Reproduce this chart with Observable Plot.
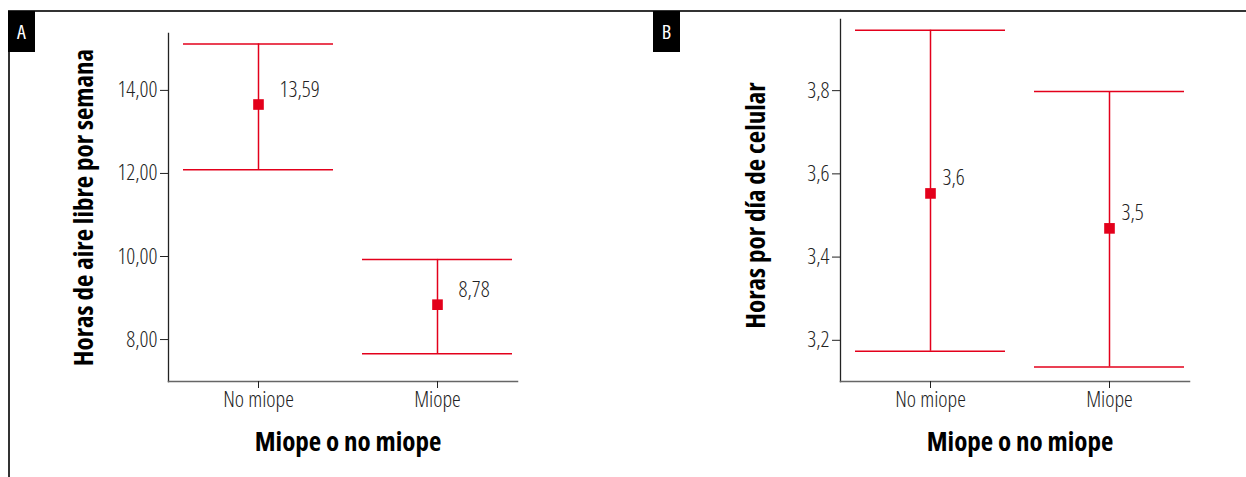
<!DOCTYPE html>
<html>
<head>
<meta charset="utf-8">
<script src="https://cdn.jsdelivr.net/npm/d3@7"></script>
<script src="https://cdn.jsdelivr.net/npm/@observablehq/plot@0.6"></script>
<style>
  html, body { margin: 0; padding: 0; background: #fff; }
  #fig { position: relative; width: 1246px; height: 477px; overflow: hidden;
         font-family: "Open Sans", sans-serif; font-stretch: 75%; }
  .border-top { position: absolute; left: 8px; top: 10px; width: 1238px; height: 1.5px; background: #333; }
  .border-left { position: absolute; left: 8px; top: 10px; width: 1.5px; height: 467px; background: #333; }
  .tag { position: absolute; top: 11px; height: 41px; background: #000; color: #fff; font-size: 20px;
         display: flex; align-items: center; justify-content: center; }
  #plotA { position: absolute; left: 0; top: 0; }
  #plotB { position: absolute; left: 672px; top: 0; }
</style>
</head>
<body>
<div id="fig">
  <div class="border-top"></div>
  <div class="border-left"></div>
  <div id="plotA"></div>
  <div id="plotB"></div>
  <div class="tag" style="left:8px;width:27px;">A</div>
  <div class="tag" style="left:653px;width:27px;">B</div>
</div>
<script>
const groups = ["No miope", "Miope"];
const xTitle = "Miope o no miope";

// Panel A: Horas de aire libre por semana
const titleA = "Horas de aire libre por semana";
const meanA = [13.66, 8.84];
const lowA = [12.09, 7.66];
const highA = [15.12, 9.93];
const labelA = ["13,59", "8,78"];
const ticksA = [8, 10, 12, 14];

// Panel B: Horas por día de celular
const titleB = "Horas por día de celular";
const meanB = [3.553, 3.469];
const lowB = [3.174, 3.136];
const highB = [3.945, 3.798];
const labelB = ["3,6", "3,5"];
const ticksB = [3.2, 3.4, 3.6, 3.8];

const RED = "#e3001b";
const FONT = '"Open Sans", sans-serif';
const comma = (f) => (d) => d3.format(f)(d).replace(".", ",");

function panel({mean, low, high, label, ticks, fmt, yDomain, marginTop, yTitle, titleDy, dx, dy}) {
  const rows = groups.map((g, i) => ({g, mean: mean[i], low: low[i], high: high[i], label: label[i]}));
  return Plot.plot({
    width: 560,
    height: 477,
    marginLeft: 168,
    marginRight: 43,
    marginTop,
    marginBottom: 96,
    style: {fontFamily: FONT, fontStretch: "75%", fontSize: "22px", fontWeight: 300, color: "#222", background: "transparent", overflow: "visible"},
    x: {type: "band", domain: groups, paddingInner: 0.16, paddingOuter: 0.05, align: 0.78, label: null},
    y: {domain: yDomain, label: null},
    marks: [
      Plot.frame({anchor: "left", stroke: "#222", strokeWidth: 1.3}),
      Plot.frame({anchor: "bottom", stroke: "#666", strokeWidth: 1.5}),
      Plot.axisY({ticks, tickFormat: comma(fmt), tickSize: 8, tickPadding: 3, label: null, fontSize: 22}),
      Plot.axisX({tickSize: 7, tickPadding: 3, label: null, fontSize: 22}),
      Plot.ruleX(rows, {x: "g", y1: "low", y2: "high", stroke: RED, strokeWidth: 1.5}),
      Plot.tickY(rows, {x: "g", y: "low", stroke: RED, strokeWidth: 1.5}),
      Plot.tickY(rows, {x: "g", y: "high", stroke: RED, strokeWidth: 1.5}),
      Plot.dot(rows, {x: "g", y: "mean", symbol: "square", r: 6, fill: RED, stroke: null}),
      Plot.text(rows, {x: "g", y: "mean", text: "label", dx, dy, textAnchor: "start", fontSize: 22, fill: "#222"}),
      Plot.text([yTitle], {frameAnchor: "left", textAnchor: "middle", rotate: -90, dx: -84, dy: titleDy, fontWeight: "bold", fontSize: 27, fill: "#000"}),
      Plot.text([xTitle], {frameAnchor: "bottom", textAnchor: "middle", dx: 5, dy: 69, fontWeight: "bold", fontSize: 27, fill: "#000"})
    ]
  });
}

document.getElementById("plotA").append(panel({
  mean: meanA, low: lowA, high: highA, label: labelA, ticks: ticksA, fmt: ".2f",
  yDomain: [6.99, 15.37], marginTop: 33, yTitle: titleA, titleDy: 0, dx: 21, dy: -15
}));
document.getElementById("plotB").append(panel({
  mean: meanB, low: lowB, high: highB, label: labelB, ticks: ticksB, fmt: ".1f",
  yDomain: [3.101, 3.971], marginTop: 19, yTitle: titleB, titleDy: 5, dx: 12, dy: -15
}));
</script>
</body>
</html>
